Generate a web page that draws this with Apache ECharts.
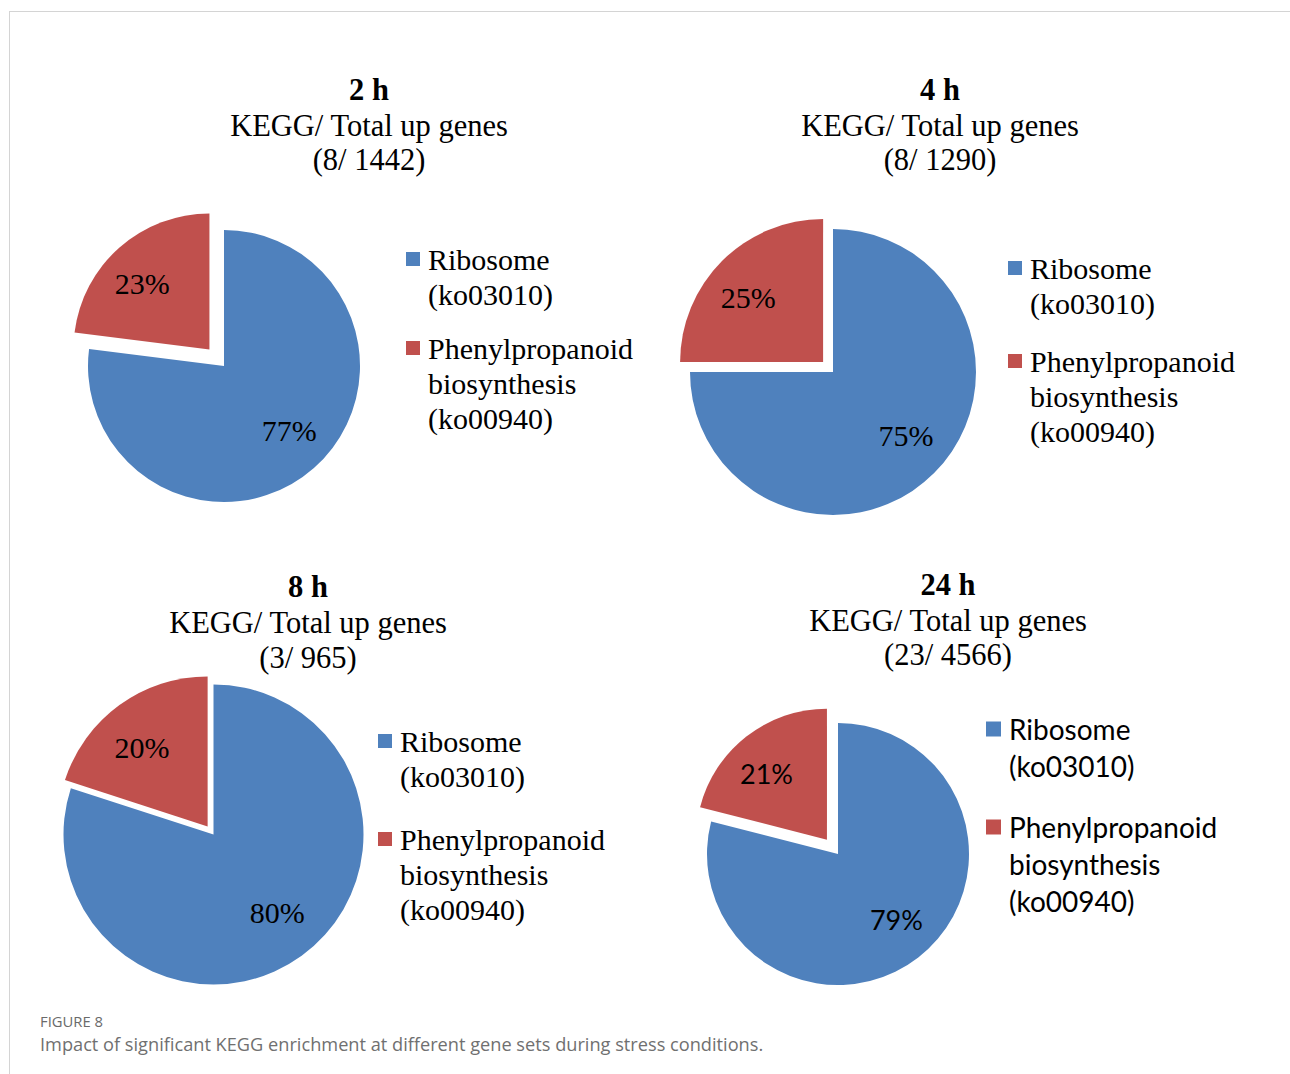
<!DOCTYPE html>
<html><head><meta charset="utf-8">
<script src="https://cdn.jsdelivr.net/npm/echarts@6/dist/echarts.min.js"></script>
<style>
html,body{margin:0;padding:0;background:#fff;width:1290px;height:1074px;overflow:hidden;}
#frame{position:absolute;left:9px;top:11px;width:1300px;height:1100px;border-top:1px solid #d4d4d4;border-left:1px solid #d4d4d4;}
#chart{position:absolute;left:0;top:0;width:1290px;height:1074px;}
#fig{position:absolute;left:40px;top:1011px;font-family:'Open Sans',sans-serif;font-size:14.8px;color:#6a6a6a;}
#cap{position:absolute;left:40px;top:1032px;font-family:'Open Sans',sans-serif;font-size:18.2px;color:#707070;}
</style></head>
<body>
<div id="frame"></div>
<div id="chart"></div>
<div id="fig">FIGURE 8</div>
<div id="cap">Impact of significant KEGG enrichment at different gene sets during stress conditions.</div>
<script>
// ---- data ----
const panelTitles = ['2 h', '4 h', '8 h', '24 h'];
const subtitle = 'KEGG/ Total up genes';
const counts = ['(8/ 1442)', '(8/ 1290)', '(3/ 965)', '(23/ 4566)'];
const categories = ['Ribosome (ko03010)', 'Phenylpropanoid biosynthesis (ko00940)'];
const legendLines = [['Ribosome', '(ko03010)'], ['Phenylpropanoid', 'biosynthesis', '(ko00940)']];
const ribosomePct = [77, 75, 80, 79];
const phenylPct = [23, 25, 20, 21];

// ---- layout / style ----
const SERIF = '"Liberation Serif","Times New Roman",serif';
const SANS = 'Lato,"Open Sans",sans-serif';
const labelShift = [[2, -7], [-4, 6]];
const layout = [
  {cx:224, cy:366, r:136, off:22, tx:369, ty:[90,126,160], lx:406, ly:[259,348], lh:35, icon:14, font:SERIF, fs:30, lfs:30},
  {cx:833, cy:372, r:143, off:14, tx:940, ty:[90,126,160], lx:1008, ly:[268,361], lh:35, icon:14, font:SERIF, fs:30, lfs:30},
  {cx:213.5, cy:834.5, r:150, off:10, tx:308, ty:[587,623,658], lx:378, ly:[741,839], lh:35, icon:14, font:SERIF, fs:30, lfs:30},
  {cx:838, cy:854, r:131, off:18, tx:948, ty:[585,621,655], lx:986, ly:[729,827], lh:37, icon:15, font:SANS, fs:28, lfs:27}
];

const series = [], legends = [], graphics = [];
layout.forEach((L, i) => {
  const values = [ribosomePct[i], phenylPct[i]];
  const mk = (withShift) => categories.map((c, k) => {
    const d = {name: c, value: values[k], selected: k === 1};
    if (withShift) {
      d.label = {offset: labelShift[k]};
      d.select = {label: {offset: labelShift[k]}};
    }
    return d;
  });
  const base = {
    type: 'pie', center: [L.cx, L.cy], startAngle: 90, clockwise: true,
    selectedMode: 'multiple', selectedOffset: L.off, animation: false, silent: true,
    avoidLabelOverlap: false, emphasis: {disabled: true}, labelLine: {show: false}
  };
  series.push(Object.assign({}, base, {
    radius: L.r, itemStyle: {borderWidth: 0}, label: {show: false}, data: mk(false)
  }));
  series.push(Object.assign({}, base, {
    radius: [L.r * 0.36, L.r], itemStyle: {color: 'rgba(0,0,0,0)', borderWidth: 0},
    label: {show: true, position: 'inside', formatter: '{c}%', color: '#000',
            fontFamily: L.font, fontSize: L.lfs},
    select: {itemStyle: {color: 'rgba(0,0,0,0)', borderWidth: 0},
             label: {show: true, color: '#000', fontFamily: L.font, fontSize: L.lfs}},
    data: mk(true)
  }));
  categories.forEach((c, k) => {
    const n = legendLines[k].length;
    legends.push({
      data: [c], left: L.lx, top: L.ly[k] - (2 * n - 1) * L.lh / 2,
      orient: 'vertical', padding: 0, itemWidth: L.icon, itemHeight: L.icon,
      icon: 'rect', selectedMode: false,
      formatter: () => '\n'.repeat(n - 1) + legendLines[k].join('\n'),
      textStyle: {fontFamily: L.font, fontSize: L.fs, color: '#000', lineHeight: L.lh,
                  padding: [0, 0, 0, 3]}
    });
  });
  const lines = [panelTitles[i], subtitle, counts[i]];
  lines.forEach((t, j) => {
    graphics.push({
      type: 'text', x: L.tx, y: L.ty[j], silent: true,
      style: {text: t, font: (j === 0 ? 'bold ' : '') + '30.5px ' + SERIF, fill: '#000',
              align: 'center', verticalAlign: 'middle', textAlign: 'center', textVerticalAlign: 'middle'}
    });
  });
});

const chart = echarts.init(document.getElementById('chart'), null, {renderer: 'svg'});
chart.setOption({
  animation: false,
  color: ['#4F81BD', '#C0504D'],
  legend: legends,
  series: series,
  graphic: graphics
});
</script>
</body></html>
